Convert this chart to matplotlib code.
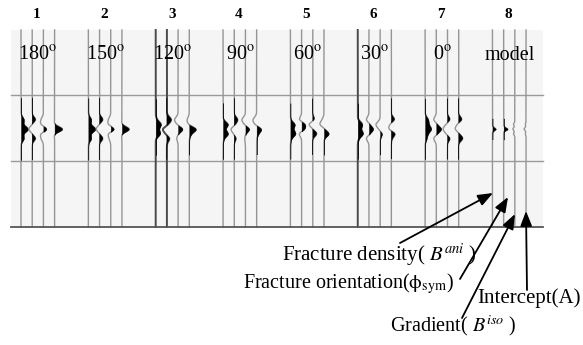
import matplotlib
matplotlib.use("Agg")
import matplotlib.pyplot as plt
import numpy as np

plt.rcParams["font.family"] = ["Liberation Serif", "DejaVu Serif"]
plt.rcParams["mathtext.fontset"] = "stix"

# column headers
group_labels = ["1", "2", "3", "4", "5", "6", "7", "8"]
angle_labels = ["180$^{\\mathrm{o}}$", "150$^{\\mathrm{o}}$", "120$^{\\mathrm{o}}$", "90$^{\\mathrm{o}}$",
                "60$^{\\mathrm{o}}$", "30$^{\\mathrm{o}}$", "0$^{\\mathrm{o}}$", "model"]

# wavelet lobe amplitudes (px) for the 4 traces of each gather,
# lobes sit at offsets -9.5, -4.75, 0, 4.75, 9.5 px around the event
amp_180 = [[2.0, 1.0, 5.0, 1.0, 2.0], [2.5, 0.0, -2.5, 0.0, 2.5], [-1.5, -2.0, 3.0, -2.0, -1.5], [0.0, -0.5, 6.0, -0.5, 0.0]]
amp_150 = [[2.0, 1.0, 5.0, 1.0, 2.0], [2.5, 0.0, -2.5, 0.0, 2.5], [-1.5, -2.0, 3.0, -2.0, -1.0], [0.0, -0.5, 5.5, -0.5, 0.0]]
amp_120 = [[0.5, 3.5, 1.5, 3.0, 0.0], [3.0, 1.0, -3.0, -1.0, 2.0], [-2.5, -1.0, 3.5, 0.0, -1.0], [-1.5, -1.0, 5.0, 1.0, 0.0]]
amp_90 = [[0.0, 3.5, 1.0, 3.5, 0.5], [2.5, 1.0, -2.5, -0.5, 1.5], [-2.5, -1.0, 3.0, 0.0, -0.5], [-2.5, -1.5, 3.5, 1.0, 0.0]]
amp_60 = [[0.0, 3.0, 1.5, 3.5, 0.5], [-2.0, 2.5, 2.0, -2.0, 0.0], [1.5, -3.0, 0.0, 3.0, 0.0], [-1.0, -3.0, 0.5, 3.5, 0.0]]
amp_30 = [[0.0, 3.0, 1.5, 3.5, 0.5], [-2.0, 0.5, 3.0, 0.5, -2.0], [0.0, -3.0, -1.0, 1.5, 0.0], [2.5, -1.0, -2.0, 3.0, 0.5]]
amp_0 = [[2.0, 2.0, 4.0, 1.5, 1.0], [-2.0, 0.5, 3.5, 0.5, -2.0], [2.0, -1.0, -3.0, -1.0, 2.0], [2.5, -1.0, -2.5, 0.5, 3.0]]
amp_model = [[0.0, 0.0, 2.5, 0.0, 0.0], [0.0, 0.0, 3.0, 0.0, 0.0], [0.0, -1.0, -1.5, -1.0, 0.0], [0.0, -0.5, -1.5, -0.5, 0.0]]
gathers = [amp_180, amp_150, amp_120, amp_90, amp_60, amp_30, amp_0, amp_model]
lobe_offsets = [-9.5, -4.75, 0, 4.75, 9.5]
lobe_sigma = [2.6, 2.6, 2.6, 2.6, 2.6, 2.6, 2.6, 1.3]
amp_scale = 1.3

# traces drawn darker in the original
dark_traces = [(2, 0), (2, 1), (5, 0)]

annotations = ["Fracture density( $B^{ani}$ )", "Fracture orientation($\\mathrm{ϕ}_{\\mathrm{sym}}$)",
               "Intercept(A)", "Gradient( $B^{iso}$ )"]

fig = plt.figure(figsize=(5.83, 3.45), dpi=100)
ax = fig.add_axes([0, 0, 1, 1])
ax.set_xlim(0, 583)
ax.set_ylim(345, 0)
ax.axis("off")

left, right, top, bottom = 11, 543, 30, 227
y_event = 129
ax.fill_between([left, right], top, bottom, color="#f5f5f5", lw=0, zorder=0)
ax.plot([left, right], [95, 95], color="#9a9a9a", lw=1.0, zorder=1)
ax.plot([left, right], [161, 161], color="#9a9a9a", lw=1.0, zorder=1)
ax.plot([left, right], [bottom, bottom], color="#555555", lw=1.3, zorder=3)

y = np.linspace(top, bottom, 1500)
for g, amps in enumerate(gathers):
    gx = 21 + 67.35 * g
    for t, a in enumerate(amps):
        x0 = gx + 11.2 * t
        x = np.full_like(y, x0)
        for off, amp in zip(lobe_offsets, a):
            x += amp_scale * amp * np.exp(-0.5 * ((y - y_event - off) / lobe_sigma[g]) ** 2)
        col = "#4a4a4a" if (g, t) in dark_traces else "#959595"
        lw = 1.4 if (g, t) in dark_traces else 1.0
        ax.plot(x, y, color=col, lw=lw, zorder=2)
        ax.fill_betweenx(y, x0, x, where=x > x0, color="black", lw=0.3, zorder=2)
    ax.text(gx + 16, 15, group_labels[g], ha="center", va="center", fontsize=11, fontweight="bold")
    ax.text(gx + 17, 55, angle_labels[g], ha="center", va="center", fontsize=14.5)

# labels and arrows pointing at the model traces
ax.text(282, 255, annotations[0], ha="left", va="center", fontsize=15)
ax.text(243, 284, annotations[1], ha="left", va="center", fontsize=14.5)
ax.text(477, 298, annotations[2], ha="left", va="center", fontsize=15)
ax.text(390, 326, annotations[3], ha="left", va="center", fontsize=14.5)

arrow_tails = [(400, 243), (460, 279), (527, 290), (462, 318)]
arrow_heads = [(493, 193), (508, 197), (526, 211), (515, 214)]
for (tx, ty), (hx, hy) in zip(arrow_tails, arrow_heads):
    ax.annotate("", xy=(hx, hy), xytext=(tx, ty),
                arrowprops=dict(arrowstyle="-|>,head_length=0.9,head_width=0.35", color="black", lw=1.3,
                                shrinkA=0, shrinkB=0), zorder=4)

fig.savefig("out.png", dpi=100)
